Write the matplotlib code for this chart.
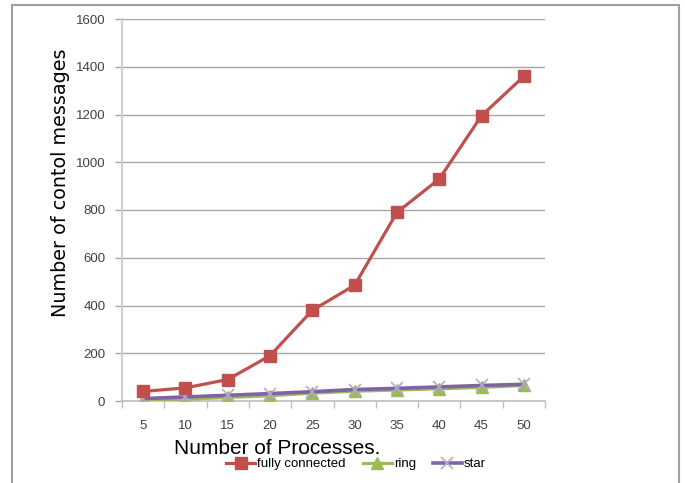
import matplotlib
matplotlib.use("Agg")
import matplotlib.pyplot as plt
from matplotlib.patches import Rectangle
import numpy as np

processes = [5, 10, 15, 20, 25, 30, 35, 40, 45, 50]
fully_connected = [40, 55, 90, 190, 380, 485, 790, 930, 1195, 1360]
ring = [3, 7, 15, 22, 33, 41, 46, 51, 57, 65]
star = [10, 17, 24, 31, 39, 48, 53, 59, 65, 70]
y_ticks = [0, 200, 400, 600, 800, 1000, 1200, 1400, 1600]

sans = ['Liberation Sans', 'DejaVu Sans']

fig = plt.figure(figsize=(6.85, 4.83), dpi=100)
ax = fig.add_axes([122 / 685, 1 - 401 / 483, (545 - 122) / 685, (401 - 19) / 483])

x = np.arange(len(processes))
ax.plot(x, fully_connected, color='#C0504D', lw=2.3, marker='s', ms=8,
        mfc='#C0504D', mec='#C0504D', label='fully connected', zorder=4)
ax.plot(x, ring, color='#9BBB59', lw=2.3, marker='^', ms=8,
        mfc='#9BBB59', mec='#9BBB59', label='ring', zorder=3)
ax.plot(x, star, color='#8064A2', lw=2.6, marker='x', ms=8,
        mec='#B9A7D3', mew=1.2, label='star', zorder=3)

ax.set_xlim(-0.5, len(processes) - 0.5)
ax.set_ylim(0, 1600)
ax.set_yticks(y_ticks)
ax.set_yticklabels([str(v) for v in y_ticks], family=sans, fontsize=9.5, color='#404040')
ax.set_xticks(x)
ax.set_xticklabels([str(p) for p in processes], family=sans, fontsize=9.5, color='#404040')
ax.set_xticks(np.arange(-0.5, len(processes)), minor=True)
ax.tick_params(axis='x', which='major', length=0, pad=14)
ax.tick_params(axis='x', which='minor', length=5, color='#BFBFBF', width=1, direction='out')
ax.tick_params(axis='y', length=5, color='#A6A6A6', width=1, pad=7)

ax.yaxis.grid(True, color='#A6A6A6', lw=1)
ax.set_axisbelow(True)
for s in ['top', 'right']:
    ax.spines[s].set_visible(False)
ax.spines['left'].set_color('#D0D0D0')
ax.spines['left'].set_linewidth(1.5)
ax.spines['bottom'].set_color('#BFBFBF')
ax.spines['bottom'].set_linewidth(1.2)

fig.text(61 / 685, 1 - 183 / 483, 'Number of contol messages', rotation=90,
         ha='center', va='center', fontsize=13.8, family='DejaVu Sans')
fig.text(174 / 685, 1 - 449 / 483, 'Number of Processes.', ha='left', va='center',
         fontsize=15, family=sans)

leg = fig.legend(loc='center', bbox_to_anchor=(356 / 685, 1 - 464 / 483), ncol=3,
                 frameon=False, prop={'family': sans, 'size': 9.5},
                 handlelength=2.2, handletextpad=0.15, columnspacing=1.3,
                 borderpad=0, borderaxespad=0)

fig.patches.append(Rectangle((12 / 685, -0.05), (679 - 12) / 685, 1.05 - 5 / 483,
                             transform=fig.transFigure, fill=False,
                             edgecolor='#A0A0A0', lw=1.5, clip_on=False))

fig.savefig('out.png', dpi=100)
